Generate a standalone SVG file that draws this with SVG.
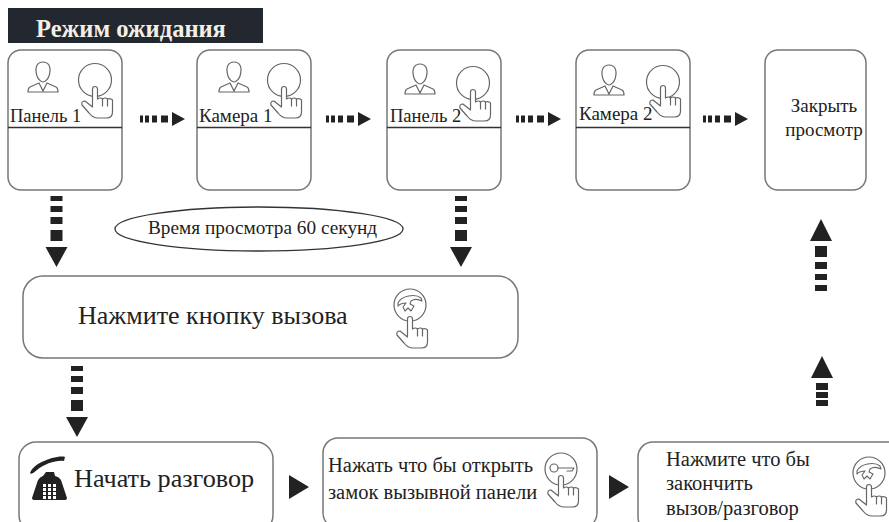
<svg xmlns="http://www.w3.org/2000/svg" xmlns:xlink="http://www.w3.org/1999/xlink" width="889" height="522" viewBox="0 0 889 522">
<style>
text{font-family:"Liberation Serif","Times New Roman",serif;fill:#222}
.box{fill:#fff;stroke:#777;stroke-width:1.5}
.ic{fill:none;stroke:#666;stroke-width:1.2;stroke-linejoin:round;stroke-linecap:round}
.hand{fill:#fff;stroke:#666;stroke-width:1.2;stroke-linejoin:round;stroke-linecap:round}
.sep{stroke:#333;stroke-width:1.3}
.t185{font-size:18.500px}
.t19{font-size:19px}
.t205{font-size:20.500px}
</style>
<defs>
<g id="hand">
<path class="hand" d="M-2.500,26V9a2.500,2.500 0 0 1 5,0V19q3,-2 5,0q3,-2 5,0q3,-1 5,1V32q0,6 -6,6H3Q-2,38 -6,33L-13,25q-1,-4 3,-4L-2.500,27"/>
<path class="ic" d="M7.500,19V26M12.500,19V26"/>
</g>
<g id="btn"><circle class="ic" r="16.5"/><use xlink:href="#hand"/></g>
<g id="person">
<path class="ic" d="M-6,-3c-3,-10 1,-14 6,-14s9,4 6,14c-1,3 -4,6 -6,6s-5,-3 -6,-6zM-4,4l-9,4c-2,1 -2,3 -2,5H15c0,-2 0,-4 -2,-5l-9,-4M-4,4L0,12L4,4"/>
</g>
<g id="callbtn"><circle class="ic" r="16"/><path d="M-12,-2c3,-7 17,-10 23,-5l1,3c-4,-2 -8,-2 -11,0l-1,3l4,2l-3,5l-3,-3l-3,3l-2,-4l3,-4c-3,0 -6,1 -8,3z" fill="#fff" stroke="#666" stroke-width="1.1" stroke-linejoin="round"/><use xlink:href="#hand" y="5"/></g>
<g id="dashR"><g fill="#222"><rect x="0" y="-3.500" width="3" height="7"/><rect x="5" y="-3.500" width="4" height="7"/><rect x="12" y="-3.500" width="5" height="7"/><rect x="21" y="-3.500" width="7" height="7"/><path d="M32,-7L45,0L32,7z"/></g></g>
<g id="dashD" fill="#222"><rect x="-6" y="0" width="12" height="5"/><rect x="-6" y="10" width="12" height="6"/><rect x="-6" y="21" width="12" height="7"/><rect x="-6" y="34" width="12" height="11"/><path d="M-11,51H11L0,71z"/></g>
</defs>
<rect id="top-bar" x="8" y="8" width="255" height="35" fill="#23272f"/>
<text x="36" y="37" font-size="24.500" font-weight="bold" style="fill:#f2efe6">Режим ожидания</text>
<g id="panel-1"><rect class="box" x="8" y="50" width="114" height="140" rx="13"/><line class="sep" x1="8" y1="127.500" x2="122" y2="127.500"/><use xlink:href="#person" x="43" y="79"/><use xlink:href="#btn" x="95" y="80"/><text class="t185" x="10" y="122">Панель 1</text></g>
<g id="camera-1"><rect class="box" x="197" y="50" width="114" height="140" rx="13"/><line class="sep" x1="197" y1="127.500" x2="311" y2="127.500"/><use xlink:href="#person" x="234" y="79"/><use xlink:href="#btn" x="284" y="80"/><text class="t19" x="199" y="122">Камера 1</text></g>
<g id="panel-2"><rect class="box" x="387" y="50" width="114" height="140" rx="13"/><line class="sep" x1="387" y1="127.500" x2="501" y2="127.500"/><use xlink:href="#person" x="420" y="81"/><use xlink:href="#btn" x="473" y="83"/><text class="t185" x="390" y="122">Панель 2</text></g>
<g id="camera-2"><rect class="box" x="576" y="50" width="114" height="140" rx="13"/><line class="sep" x1="576" y1="127.500" x2="690" y2="127.500"/><use xlink:href="#person" x="609" y="82"/><circle class="ic" cx="663" cy="82" r="16.500"/><use xlink:href="#hand" x="663" y="79"/><text class="t19" x="579" y="120">Камера 2</text></g>
<g id="close-view"><rect class="box" x="765" y="50" width="101" height="140" rx="13"/><text class="t19" x="824" y="112" text-anchor="middle">Закрыть</text><text class="t19" x="824" y="136" text-anchor="middle">просмотр</text></g>
<g id="view-time"><ellipse cx="259" cy="229" rx="144" ry="22" fill="#fff" stroke="#333" stroke-width="1.3"/><text x="148" y="234" font-size="19.300">Время просмотра 60 секунд</text></g>
<g id="press-call"><rect class="box" x="23" y="276" width="495" height="82" rx="20"/><text x="78" y="324" font-size="26">Нажмите кнопку вызова</text><use xlink:href="#callbtn" x="410" y="305"/></g>
<g id="start-talk"><rect class="box" x="19" y="442" width="254" height="90" rx="17"/><text x="74" y="487" font-size="26.200">Начать разговор</text>
<path d="M30,473c2,-7 12,-12 22,-15c5,-1 10,-2 13,-1l-1,4c-8,-1 -20,3 -27,9c-3,2 -5,5 -7,3z" fill="#222"/>
<path d="M46,472h8l1,4c4,1 6,3 7,7l5,15q0,2 -2,2H34q-2,0 -2,-2l5,-15c1,-4 3,-6 6,-7z" fill="#222"/>
<g fill="#fff"><rect x="43" y="484" width="3" height="3"/><rect x="48" y="484" width="3" height="3"/><rect x="53" y="484" width="3" height="3"/><rect x="43" y="488" width="3" height="3"/><rect x="48" y="488" width="3" height="3"/><rect x="53" y="488" width="3" height="3"/><rect x="43" y="492" width="3" height="3"/><rect x="48" y="492" width="3" height="3"/><rect x="53" y="492" width="3" height="3"/><rect x="43" y="496" width="3" height="3"/><rect x="48" y="496" width="3" height="3"/><rect x="53" y="496" width="3" height="3"/></g></g>
<g id="open-lock"><rect class="box" x="323" y="438" width="274" height="90" rx="15"/><text class="t205" x="328" y="472">Нажать что бы открыть</text><text class="t205" x="328" y="499">замок вызывной панели</text><circle class="ic" cx="561" cy="469" r="16"/><circle class="ic" cx="554" cy="468" r="4"/><path class="ic" d="M558,468H574l-2,3h-5"/><use xlink:href="#hand" x="561" y="469"/></g>
<g id="end-call"><rect class="box" x="638" y="442" width="270" height="90" rx="15"/><text class="t205" x="666" y="466">Нажмите что бы</text><text class="t205" x="666" y="490">закончить</text><text class="t205" x="666" y="515">вызов/разговор</text><use xlink:href="#callbtn" x="869" y="473"/></g>
<g id="connectors" fill="#222">
<use xlink:href="#dashR" x="140" y="119"/>
<use xlink:href="#dashR" x="326" y="119"/>
<use xlink:href="#dashR" x="516" y="119"/>
<use xlink:href="#dashR" x="703" y="119"/>
<use xlink:href="#dashD" x="56.500" y="196"/>
<use xlink:href="#dashD" x="461" y="196"/>
<use xlink:href="#dashD" x="77" y="366"/>
<g id="up1"><path d="M810,241H832L821,219z"/><rect x="815" y="246" width="12" height="11"/><rect x="815" y="262" width="12" height="7"/><rect x="815" y="274" width="12" height="6"/><rect x="815" y="285" width="12" height="6"/></g>
<g id="up2"><path d="M811,378H833L822,356z"/><rect x="816" y="383" width="12" height="7"/><rect x="816" y="392" width="12" height="6"/><rect x="816" y="400" width="12" height="6"/></g>
<path d="M289,475L309,487L289,499z"/>
<path d="M609,475L629,487L609,499z"/>
</g>
</svg>
